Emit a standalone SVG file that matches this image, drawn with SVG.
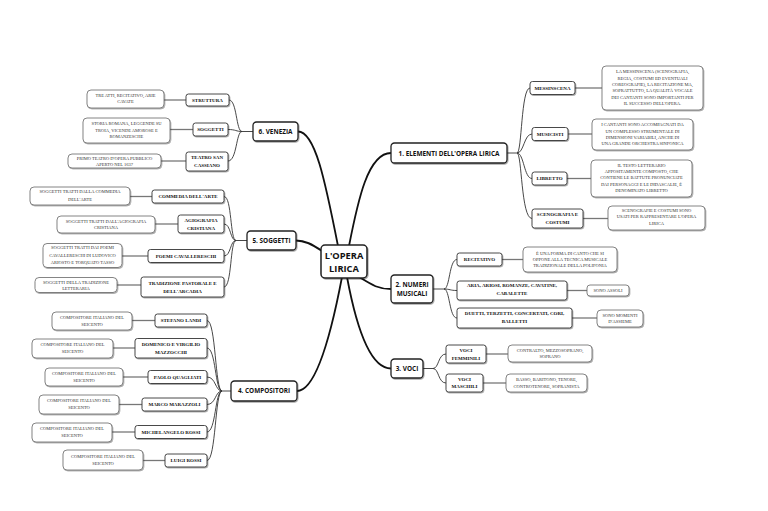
<svg xmlns="http://www.w3.org/2000/svg" width="768" height="511" viewBox="0 0 768 511">
<style>
.bg{fill:#ffffff}
.c0{fill:none;stroke:#111;stroke-width:1.8;stroke-linecap:round}
.c1{fill:none;stroke:#333;stroke-width:0.9}
.c2{fill:none;stroke:#777;stroke-width:1.3}
.n0 rect{fill:#fff;stroke:#222;stroke-width:1.5;filter:url(#sh)}
.n1 rect{fill:#fff;stroke:#222;stroke-width:1.3;filter:url(#sh)}
.n2 rect{fill:#fff;stroke:#333;stroke-width:0.9;filter:url(#sh)}
.d rect{fill:#fff;stroke:#666;stroke-width:0.8;filter:url(#sh)}
.t0{font-family:"Open Sans","DejaVu Sans",sans-serif;font-weight:bold;font-size:9.3px;fill:#111;text-anchor:middle}
.t1{font-family:"Open Sans","DejaVu Sans",sans-serif;font-weight:bold;font-size:6.4px;fill:#111;text-anchor:middle}
.t2{font-family:"Liberation Serif","Times New Roman",serif;font-weight:bold;font-size:5px;fill:#111;text-anchor:middle}
.t3{font-family:"Liberation Serif","Times New Roman",serif;font-size:4.5px;fill:#333;text-anchor:middle}
</style>
<defs>
<filter id="sh" x="-20%" y="-20%" width="140%" height="160%">
<feDropShadow dx="0.8" dy="1" stdDeviation="0.5" flood-color="#000" flood-opacity="0.35"/>
</filter>
</defs>
<rect class="bg" x="0" y="0" width="768" height="511"/>

<g id="connectors">
<!-- central -->
<path class="c0" d="M349,246 C358,200 368,153 391,153"/>
<path class="c0" d="M338,246 C325,180 315,131.5 298,131.5"/>
<path class="c0" d="M322,251 C312,244 305,240.5 296,240.5"/>
<path class="c0" d="M359,277 C372,285 378,289 391,289"/>
<path class="c0" d="M347,277 C355,320 368,368.5 391,368.5"/>
<path class="c0" d="M342,277 C330,340 315,391 297,391"/>
<!-- elementi -->
<path class="c1" d="M507,153 H517"/>
<path class="c1" d="M517,153 C522,153 521,88 530,88"/>
<path class="c1" d="M517,153 C524,153 524,134 532,134"/>
<path class="c1" d="M517,153 C524,153 524,178.5 532,178.5"/>
<path class="c1" d="M517,153 C522,153 521,218.5 532,218.5"/>
<path class="c2" d="M575,88 H602"/>
<path class="c2" d="M568,134 H592"/>
<path class="c2" d="M567,178.5 H591"/>
<path class="c2" d="M583,218.5 H608"/>
<!-- numeri -->
<path class="c1" d="M433,289 H444"/>
<path class="c1" d="M444,289 C450,289 449,259.5 457,259.5"/>
<path class="c1" d="M444,289 C450,289 450,290.5 457,290.5"/>
<path class="c1" d="M444,289 C450,289 449,318 457,318"/>
<path class="c2" d="M502,259.5 H523"/>
<path class="c2" d="M567,290.5 H587"/>
<path class="c2" d="M572,318 H597"/>
<!-- voci -->
<path class="c1" d="M423,368.5 H433"/>
<path class="c1" d="M433,368.5 C439,368.5 438,354 446,354"/>
<path class="c1" d="M433,368.5 C439,368.5 438,383 446,383"/>
<path class="c2" d="M486,354 H508"/>
<path class="c2" d="M483,383 H506"/>
<!-- venezia -->
<path class="c1" d="M253,131.5 H242"/>
<path class="c1" d="M242,131.5 C236,131.5 237,100 229,100"/>
<path class="c1" d="M242,131.5 C236,131.5 236,129.5 228,129.5"/>
<path class="c1" d="M242,131.5 C236,131.5 237,161 228,161"/>
<path class="c2" d="M186,100 H164"/>
<path class="c2" d="M193,129.5 H170"/>
<path class="c2" d="M186,161 H161"/>
<!-- soggetti -->
<path class="c1" d="M247,240.5 H236"/>
<path class="c1" d="M236,240.5 C230,240.5 232,196.5 224,196.5"/>
<path class="c1" d="M236,240.5 C230,240.5 231,224 224,224"/>
<path class="c1" d="M236,240.5 C230,240.5 231,256 224,256"/>
<path class="c1" d="M236,240.5 C230,240.5 232,287 224,287"/>
<path class="c2" d="M152,196.5 H130"/>
<path class="c2" d="M178,224 H155"/>
<path class="c2" d="M148,256 H122"/>
<path class="c2" d="M141,285 H117"/>
<!-- compositori -->
<path class="c1" d="M231,391 H222"/>
<path class="c1" d="M222,391 C215,391 216,320.5 207,320.5"/>
<path class="c1" d="M222,391 C215,391 216,348 207,348"/>
<path class="c1" d="M222,391 C215,391 216,377 207,377"/>
<path class="c1" d="M222,391 C215,391 216,404.5 207,404.5"/>
<path class="c1" d="M222,391 C215,391 216,432 207,432"/>
<path class="c1" d="M222,391 C215,391 216,460.5 207,460.5"/>
<path class="c2" d="M155,320.5 H132"/>
<path class="c2" d="M135,348 H113"/>
<path class="c2" d="M148,377 H123"/>
<path class="c2" d="M142,404.5 H119"/>
<path class="c2" d="M135,432 H112"/>
<path class="c2" d="M165,460.5 H143"/>
</g>

<g id="root" class="n0"><rect x="321" y="245" width="46" height="33" rx="4"/>
<text class="t0" x="344" y="259">L'OPERA</text><text class="t0" x="344" y="272">LIRICA</text></g>

<g id="elementi" class="n1"><rect x="391" y="143" width="116" height="20" rx="3.5"/><text class="t1" x="449" y="155.5">1. ELEMENTI DELL'OPERA LIRICA</text></g>
<g id="numeri" class="n1"><rect x="391" y="275" width="42" height="28" rx="3.5"/><text class="t1" x="412" y="286.5">2. NUMERI</text><text class="t1" x="412" y="296">MUSICALI</text></g>
<g id="voci" class="n1"><rect x="391" y="359" width="32" height="19" rx="3.5"/><text class="t1" x="407" y="370.8">3. VOCI</text></g>
<g id="compositori" class="n1"><rect x="231" y="381" width="66" height="20" rx="3.5"/><text class="t1" x="264" y="393.3">4. COMPOSITORI</text></g>
<g id="soggetti" class="n1"><rect x="247" y="231" width="49" height="19" rx="3.5"/><text class="t1" x="271.5" y="242.8">5. SOGGETTI</text></g>
<g id="venezia" class="n1"><rect x="253" y="122" width="45" height="19" rx="3.5"/><text class="t1" x="275.5" y="133.8">6. VENEZIA</text></g>

<!-- elementi children -->
<g id="messinscena" class="n2"><rect x="530" y="81.5" width="45" height="13" rx="2.5"/><text class="t2" x="552.5" y="89.7">MESSINSCENA</text></g>
<g id="messinscena-d" class="d"><rect x="602" y="66" width="101" height="44" rx="4"/>
<text class="t3" x="652.5" y="73.3">LA MESSINSCENA (SCENOGRAFIA,</text>
<text class="t3" x="652.5" y="79.6">REGIA, COSTUMI ED EVENTUALI</text>
<text class="t3" x="652.5" y="85.9">COREOGRAFIE), LA RECITAZIONE MA,</text>
<text class="t3" x="652.5" y="92.2">SOPRATTUTTO, LA QUALITÀ VOCALE</text>
<text class="t3" x="652.5" y="98.5">DEI CANTANTI SONO IMPORTANTI PER</text>
<text class="t3" x="652.5" y="104.8">IL SUCCESSO DELL'OPERA.</text></g>
<g id="musicisti" class="n2"><rect x="532" y="127.5" width="36" height="13" rx="2.5"/><text class="t2" x="550" y="135.7">MUSICISTI</text></g>
<g id="musicisti-d" class="d"><rect x="592" y="119" width="101" height="31" rx="4"/>
<text class="t3" x="642.5" y="126.3">I CANTANTI SONO ACCOMPAGNATI DA</text>
<text class="t3" x="642.5" y="132.7">UN COMPLESSO STRUMENTALE DI</text>
<text class="t3" x="642.5" y="139">DIMENSIONI VARIABILI, ANCHE DI</text>
<text class="t3" x="642.5" y="145.4">UNA GRANDE ORCHESTRA SINFONICA</text></g>
<g id="libretto" class="n2"><rect x="532" y="172" width="35" height="13" rx="2.5"/><text class="t2" x="549.5" y="180.2">LIBRETTO</text></g>
<g id="libretto-d" class="d"><rect x="591" y="160" width="101" height="37" rx="4"/>
<text class="t3" x="641.5" y="166.6">IL TESTO LETTERARIO</text>
<text class="t3" x="641.5" y="172.9">APPOSITAMENTE COMPOSTO, CHE</text>
<text class="t3" x="641.5" y="179.2">CONTIENE LE BATTUTE PRONUNCIATE</text>
<text class="t3" x="641.5" y="185.5">DAI PERSONAGGI E LE DIDASCALIE, È</text>
<text class="t3" x="641.5" y="191.8">DENOMINATO LIBRETTO</text></g>
<g id="scenografia" class="n2"><rect x="532" y="209" width="51" height="19" rx="2.5"/><text class="t2" x="557.5" y="216.2">SCENOGRAFIA E</text><text class="t2" x="557.5" y="224.3">COSTUMI</text></g>
<g id="scenografia-d" class="d"><rect x="608" y="206" width="97" height="24" rx="4"/>
<text class="t3" x="656.5" y="211.8">SCENOGRAFIE E COSTUMI SONO</text>
<text class="t3" x="656.5" y="218.2">USATI PER RAPPRESENTARE L'OPERA</text>
<text class="t3" x="656.5" y="224.6">LIRICA</text></g>

<!-- numeri children -->
<g id="recitativo" class="n2"><rect x="457" y="253" width="45" height="13" rx="2.5"/><text class="t2" x="479.5" y="261.2">RECITATIVO</text></g>
<g id="recitativo-d" class="d"><rect x="523" y="247" width="94" height="25" rx="4"/>
<text class="t3" x="570" y="254.5">È UNA FORMA DI CANTO CHE SI</text>
<text class="t3" x="570" y="260.5">OPPONE ALLA TECNICA MUSICALE</text>
<text class="t3" x="570" y="266.5">TRADIZIONALE DELLA POLIFONIA</text></g>
<g id="aria" class="n2"><rect x="457" y="281" width="110" height="19" rx="2.5"/><text class="t2" x="512" y="287">ARIA, ARIOSI, ROMANZE, CAVATINE,</text><text class="t2" x="512" y="295">CABALETTE</text></g>
<g id="aria-d" class="d"><rect x="587" y="285" width="42" height="11" rx="3"/><text class="t3" x="608" y="292">SONO ASSOLI</text></g>
<g id="duetti" class="n2"><rect x="457" y="308" width="115" height="20" rx="2.5"/><text class="t2" x="514.5" y="315.3">DUETTI, TERZETTI, CONCERTATI, CORI,</text><text class="t2" x="514.5" y="323.3">BALLETTI</text></g>
<g id="duetti-d" class="d"><rect x="597" y="310" width="46" height="17" rx="4"/><text class="t3" x="620" y="316.6">SONO MOMENTI</text><text class="t3" x="620" y="323">D'ASSIEME</text></g>

<!-- voci children -->
<g id="femminili" class="n2"><rect x="446" y="345" width="40" height="18" rx="2.5"/><text class="t2" x="466" y="352">VOCI</text><text class="t2" x="466" y="359.5">FEMMINILI</text></g>
<g id="femminili-d" class="d"><rect x="508" y="345" width="84" height="17" rx="4"/><text class="t3" x="550" y="351.8">CONTRALTO, MEZZOSOPRANO,</text><text class="t3" x="550" y="358.2">SOPRANO</text></g>
<g id="maschili" class="n2"><rect x="446" y="374" width="37" height="18" rx="2.5"/><text class="t2" x="464.5" y="380.8">VOCI</text><text class="t2" x="464.5" y="388.3">MASCHILI</text></g>
<g id="maschili-d" class="d"><rect x="506" y="374" width="81" height="18" rx="4"/><text class="t3" x="546.5" y="380.8">BASSO, BARITONO, TENORE,</text><text class="t3" x="546.5" y="387.6">CONTROTENORE, SOPRANISTA</text></g>

<!-- venezia children -->
<g id="struttura" class="n2"><rect x="186" y="94" width="43" height="12" rx="2.5"/><text class="t2" x="207.5" y="101.7">STRUTTURA</text></g>
<g id="struttura-d" class="d"><rect x="87" y="90" width="77" height="18" rx="4"/><text class="t3" x="125.5" y="96.8">TRE ATTI, RECITATIVO, ARIE</text><text class="t3" x="125.5" y="103.4">CAVATE</text></g>
<g id="v-soggetti" class="n2"><rect x="193" y="123" width="35" height="13" rx="2.5"/><text class="t2" x="210.5" y="131.2">SOGGETTI</text></g>
<g id="v-soggetti-d" class="d"><rect x="83" y="118" width="87" height="25" rx="4"/><text class="t3" x="126.5" y="125">STORIA ROMANA, LEGGENDE SU</text><text class="t3" x="126.5" y="131.6">TROIA, VICENDE AMOROSE E</text><text class="t3" x="126.5" y="138.2">ROMANZESCHE</text></g>
<g id="cassiano" class="n2"><rect x="186" y="152" width="42" height="19" rx="2.5"/><text class="t2" x="207" y="159.2">TEATRO SAN</text><text class="t2" x="207" y="167">CASSIANO</text></g>
<g id="cassiano-d" class="d"><rect x="68" y="154" width="93" height="14" rx="4"/><text class="t3" x="114.5" y="160">PRIMO TEATRO D'OPERA PUBBLICO</text><text class="t3" x="114.5" y="166.2">APERTO NEL 1637</text></g>

<!-- soggetti children -->
<g id="commedia" class="n2"><rect x="152" y="190" width="72" height="13" rx="2.5"/><text class="t2" x="188" y="198.2">COMMEDIA DELL'ARTE</text></g>
<g id="commedia-d" class="d"><rect x="30" y="187" width="100" height="18" rx="4"/><text class="t3" x="80" y="193.4">SOGGETTI TRATTI DALLA COMMEDIA</text><text class="t3" x="80" y="200.5">DELL'ARTE</text></g>
<g id="agiografia" class="n2"><rect x="178" y="215" width="46" height="18" rx="2.5"/><text class="t2" x="201" y="222">AGIOGRAFIA</text><text class="t2" x="201" y="229.5">CRISTIANA</text></g>
<g id="agiografia-d" class="d"><rect x="57" y="216" width="98" height="17" rx="4"/><text class="t3" x="106" y="222.6">SOGGETTI TRATTI DALL'AGIOGRAFIA</text><text class="t3" x="106" y="229">CRISTIANA</text></g>
<g id="poemi" class="n2"><rect x="148" y="249.5" width="76" height="13" rx="2.5"/><text class="t2" x="186" y="257.7">POEMI CAVALLERESCHI</text></g>
<g id="poemi-d" class="d"><rect x="43" y="243.5" width="79" height="24" rx="4"/><text class="t3" x="82.5" y="249">SOGGETTI TRATTI DAI POEMI</text><text class="t3" x="82.5" y="256.6">CAVALLERESCHI DI LUDOVICO</text><text class="t3" x="82.5" y="264">ARIOSTO E TORQUATO TASSO</text></g>
<g id="tradizione" class="n2"><rect x="141" y="277" width="83" height="20" rx="2.5"/><text class="t2" x="182.5" y="284.5">TRADIZIONE PASTORALE E</text><text class="t2" x="182.5" y="292.5">DELL'ARCADIA</text></g>
<g id="tradizione-d" class="d"><rect x="35" y="277.5" width="82" height="15" rx="4"/><text class="t3" x="76" y="284">SOGGETTI DELLA TRADIZIONE</text><text class="t3" x="76" y="290.3">LETTERARIA</text></g>

<!-- compositori children -->
<g id="landi" class="n2"><rect x="155" y="314" width="52" height="13" rx="2.5"/><text class="t2" x="181" y="322.2">STEFANO LANDI</text></g>
<g id="landi-d" class="d"><rect x="52" y="312" width="80" height="18" rx="4"/><text class="t3" x="92" y="319.3">COMPOSITORE ITALIANO DEL</text><text class="t3" x="92" y="325.8">SEICENTO</text></g>
<g id="mazzocchi" class="n2"><rect x="135" y="338.5" width="72" height="19.5" rx="2.5"/><text class="t2" x="171" y="345.8">DOMENICO E VIRGILIO</text><text class="t2" x="171" y="353.6">MAZZOCCHI</text></g>
<g id="mazzocchi-d" class="d"><rect x="32" y="339" width="81" height="19" rx="4"/><text class="t3" x="72.5" y="345.8">COMPOSITORE ITALIANO DEL</text><text class="t3" x="72.5" y="353">SEICENTO</text></g>
<g id="quagliati" class="n2"><rect x="148" y="370.5" width="59" height="13" rx="2.5"/><text class="t2" x="177.5" y="378.7">PAOLO QUAGLIATI</text></g>
<g id="quagliati-d" class="d"><rect x="45" y="368" width="78" height="18" rx="4"/><text class="t3" x="84" y="375.3">COMPOSITORE ITALIANO DEL</text><text class="t3" x="84" y="381.8">SEICENTO</text></g>
<g id="marazzoli" class="n2"><rect x="142" y="398" width="65" height="13" rx="2.5"/><text class="t2" x="174.5" y="406.2">MARCO MARAZZOLI</text></g>
<g id="marazzoli-d" class="d"><rect x="39" y="395" width="80" height="19" rx="4"/><text class="t3" x="79" y="402.3">COMPOSITORE ITALIANO DEL</text><text class="t3" x="79" y="408.8">SEICENTO</text></g>
<g id="michelangelo" class="n2"><rect x="135" y="425.5" width="72" height="13" rx="2.5"/><text class="t2" x="171" y="433.7">MICHELANGELO ROSSI</text></g>
<g id="michelangelo-d" class="d"><rect x="32" y="423" width="80" height="19" rx="4"/><text class="t3" x="72" y="430.3">COMPOSITORE ITALIANO DEL</text><text class="t3" x="72" y="436.8">SEICENTO</text></g>
<g id="luigi" class="n2"><rect x="165" y="454" width="42" height="13" rx="2.5"/><text class="t2" x="186" y="462.2">LUIGI ROSSI</text></g>
<g id="luigi-d" class="d"><rect x="63" y="450" width="80" height="20" rx="4"/><text class="t3" x="103" y="458.3">COMPOSITORE ITALIANO DEL</text><text class="t3" x="103" y="464.8">SEICENTO</text></g>
</svg>
